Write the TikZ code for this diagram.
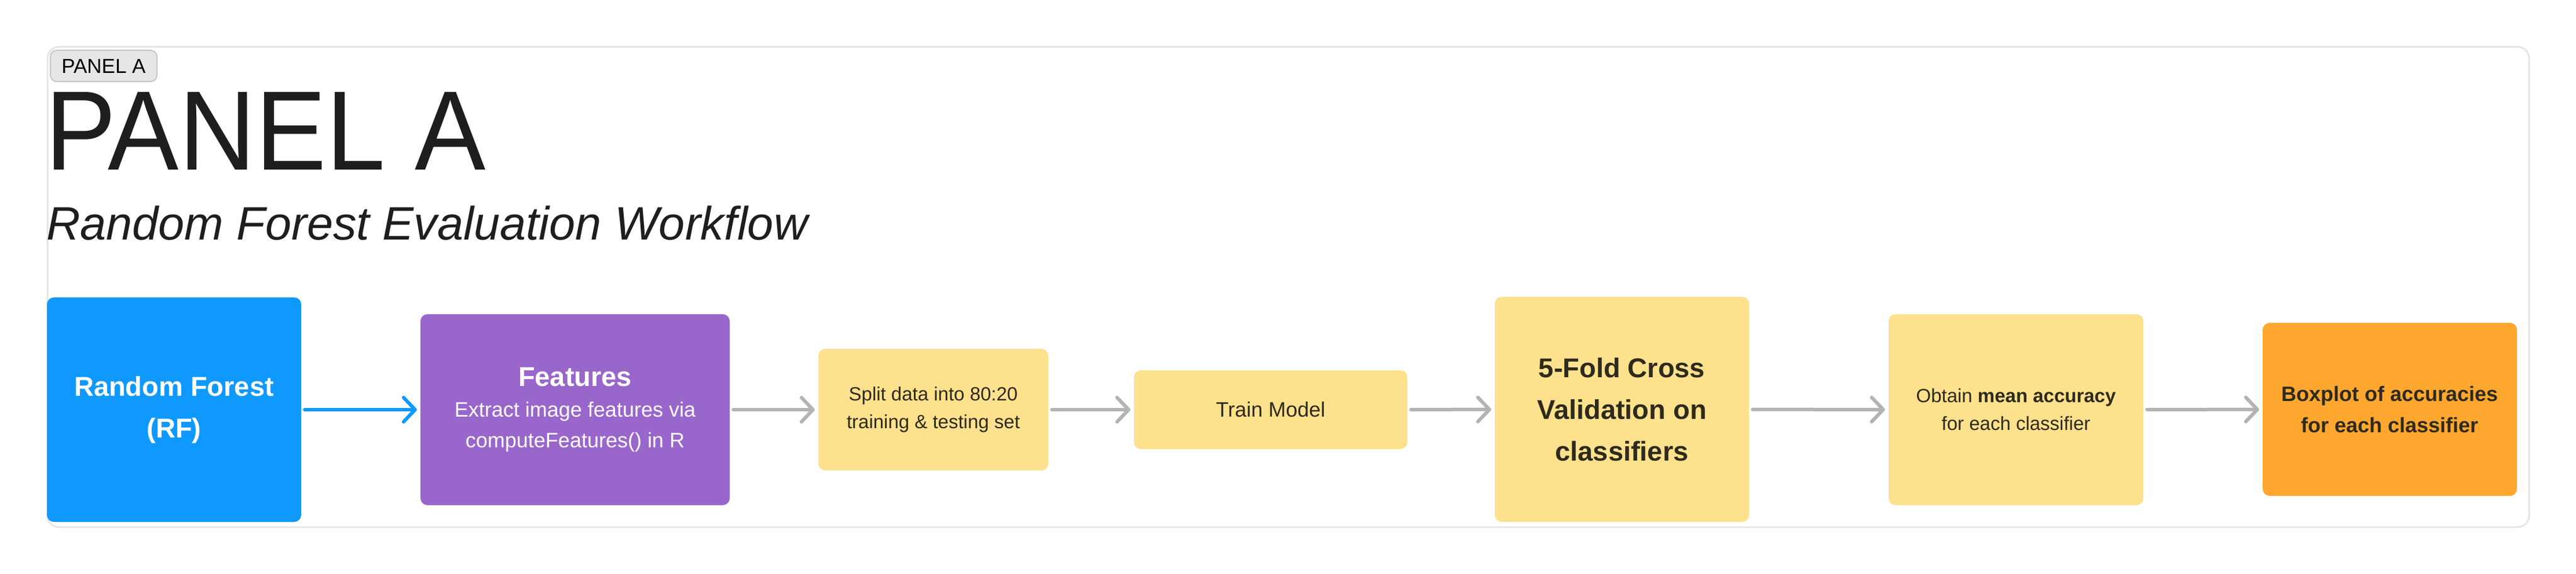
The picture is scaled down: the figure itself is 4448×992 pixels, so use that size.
\documentclass[tikz,border=0pt]{standalone}
\usepackage{fontspec}
\setmainfont{Liberation Sans}
\usetikzlibrary{arrows.meta}
\definecolor{rfblue}{HTML}{0F99FF}
\definecolor{featpurple}{HTML}{9966CC}
\definecolor{stickyyellow}{HTML}{FDE18C}
\definecolor{boxorange}{HTML}{FFA72E}
\definecolor{arrowgray}{HTML}{B3B3B3}
\definecolor{darktext}{HTML}{2E2A1C}
\definecolor{framegray}{HTML}{E5E5E5}
\definecolor{badgefill}{HTML}{E6E6E6}
\definecolor{badgeline}{HTML}{C6C6C6}
\definecolor{titleblack}{HTML}{1E1E1E}
\tikzset{
  flowbox/.style={rounded corners=12pt, inner sep=0pt, align=center, anchor=center},
  flowarrow/.style={line width=6pt, line cap=round, shorten <=6pt, shorten >=6pt,
    -{Straight Barb[length=20pt,width=42pt,line width=6pt,round]}},
}
\begin{document}
\begin{tikzpicture}[x=1pt,y=-1pt]
\useasboundingbox (0,0) rectangle (4448,992);
\fill[white] (0,0) rectangle (4448,992);
% frame
\draw[framegray, line width=3pt, rounded corners=20pt] (82,81) rectangle (4367,911);
% badge
\node[draw=badgeline, fill=badgefill, line width=2pt, rounded corners=11pt,
  minimum width=184pt, minimum height=54pt, inner sep=0pt,
  font=\fontsize{35}{40}\selectfont, text=black] (badge) at (179,114) {PANEL A};
% title
\node[anchor=base west, inner sep=0pt, text=titleblack, font=\fontsize{195}{200}\selectfont]
  (title) at (78,294) {\scalebox{0.94}[1]{PANEL A}};
\node[anchor=base west, inner sep=0pt, text=titleblack, font=\fontsize{81}{90}\selectfont\itshape]
  (subtitle) at (80,414) {Random Forest Evaluation Workflow};
% boxes
\node[flowbox, fill=rfblue, minimum width=439pt, minimum height=388pt, text=white,
  font=\fontsize{47}{72}\selectfont\bfseries] (rf) at (300.5,708) {Random Forest\\(RF)};
\node[flowbox, fill=featpurple, minimum width=534pt, minimum height=330pt, text=white,
  font=\fontsize{36}{53}\selectfont] (feat) at (993,708)
  {{\fontsize{47}{53}\selectfont\bfseries Features}\\
   Extract image features via\\
   computeFeatures() in R};
\node[flowbox, fill=stickyyellow, minimum width=397pt, minimum height=210pt, text=darktext,
  font=\fontsize{33}{48}\selectfont] (split) at (1611.5,708) {Split data into 80:20\\training \& testing set};
\node[flowbox, fill=stickyyellow, minimum width=472pt, minimum height=136pt, text=darktext,
  font=\fontsize{36}{48}\selectfont] (train) at (2194,708) {Train Model};
\node[flowbox, fill=stickyyellow, minimum width=439pt, minimum height=389pt, text=darktext,
  font=\fontsize{47}{72}\selectfont\bfseries] (cv) at (2800.5,707.5) {5-Fold Cross\\Validation on\\classifiers};
\node[flowbox, fill=stickyyellow, minimum width=440pt, minimum height=330pt, text=darktext,
  font=\fontsize{33}{48}\selectfont] (obtain) at (3481,708) {Obtain \textbf{mean accuracy}\\for each classifier};
\node[flowbox, fill=boxorange, minimum width=439pt, minimum height=299pt, text=darktext,
  font=\fontsize{36}{54}\selectfont\bfseries] (boxplot) at (4126.5,707.5) {Boxplot of accuracies\\for each classifier};
% arrows
\draw[flowarrow, rfblue] (rf) -- (feat);
\draw[flowarrow, arrowgray] (feat) -- (split);
\draw[flowarrow, arrowgray] (split) -- (train);
\draw[flowarrow, arrowgray] (train) -- (cv);
\draw[flowarrow, arrowgray] (cv) -- (obtain);
\draw[flowarrow, arrowgray] (obtain) -- (boxplot);
\end{tikzpicture}
\end{document}
